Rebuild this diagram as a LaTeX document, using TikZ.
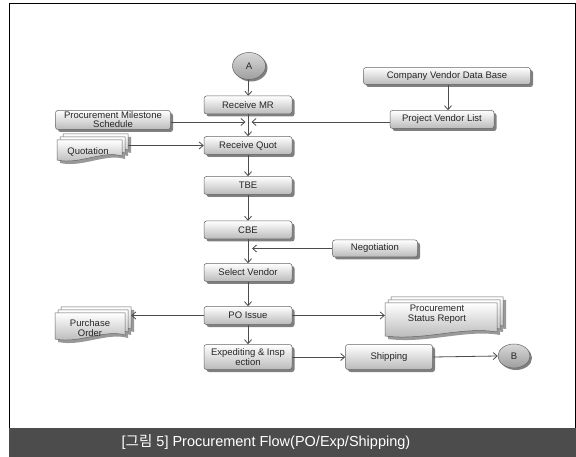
\documentclass[tikz,border=0pt]{standalone}
\usepackage{fontspec}
\setmainfont{Liberation Sans}
\newfontfamily\krfont{Noto Sans CJK KR}
\usetikzlibrary{arrows.meta,shadows,shapes.geometric,calc}

\newcommand{\onedoc}[5]{%
 \pgfmathsetmacro\dxa{#2}\pgfmathsetmacro\dya{#3}%
 \pgfmathsetmacro\dxb{#4}\pgfmathsetmacro\dyb{#5}%
 \pgfmathsetmacro\cxa{\dxa+0.7*(\dxb-\dxa)}%
 \pgfmathsetmacro\cxb{\dxa+0.35*(\dxb-\dxa)}%
 \path[#1] (\dxa,\dya) -- (\dxb,\dya) -- (\dxb,\dyb-5)
   .. controls (\cxa,\dyb-11) and (\cxb,\dyb+4) .. (\dxa,\dyb-1) -- cycle;}
\newcommand{\docstack}[4]{%
 \foreach \k in {6,3,0}{\onedoc{docshadow}{(#1)+\k+3}{(#2)+6-\k+3}{(#3)-6+\k+3}{(#4)-\k+3}}
 \foreach \k in {6,3,0}{\onedoc{docfill}{(#1)+\k}{(#2)+6-\k}{(#3)-6+\k}{(#4)-\k}}}

\tikzset{
 txt/.style={font=\fontsize{9.5}{10}\selectfont, text=black!85, align=center},
 box/.style={txt, draw=black!60, line width=0.5pt, rounded corners=2.5pt,
   top color=white, bottom color=black!27, minimum width=88pt, minimum height=18pt,
   inner sep=1pt,
   general shadow={fill=black!50, shadow xshift=2.5pt, shadow yshift=-2.5pt}},
 term/.style={txt, ellipse, draw=black!60, line width=0.5pt, top color=black!15,
   bottom color=black!38, inner sep=0pt,
   general shadow={fill=black!50, shadow xshift=2pt, shadow yshift=-2pt}},
 docshadow/.style={fill=black!40},
 docfill/.style={draw=black!60, line width=0.5pt, top color=white, bottom color=black!30},
 docbox/.style={inner sep=0pt},
 arr/.style={draw=black!70, line width=0.8pt, -{Straight Barb[length=4pt,width=7pt]}},
}

\begin{document}
\begin{tikzpicture}[x=1pt,y=-1pt]
\useasboundingbox (0,0) rectangle (576,457);
\fill[white] (0,0) rectangle (576,457);
\draw[black, line width=1pt] (9,4) rectangle (575,428);
\fill[black!70] (9,428) rectangle (576,457);
\node[text=white, font=\fontsize{14.5}{14.5}\selectfont] (cap) at (266,442)
  {[{\krfont 그림} 5] Procurement Flow(PO/Exp/Shipping)};

% main column
\node[term, minimum width=33pt, minimum height=27pt] (A) at (249,66) {A};
\node[box] (mr)   at (248,105)   {Receive MR};
\node[box] (quot) at (248,145.5) {Receive Quot};
\node[box] (tbe)  at (248,185.5) {TBE};
\node[box] (cbe)  at (248,230)   {CBE};
\node[box] (sel)  at (248,272.5) {Select Vendor};
\node[box] (po)   at (248,315.5) {PO Issue};
\node[box, minimum height=25pt] (exp) at (248,357) {Expediting \& Insp\\ection};

% side boxes
\node[box, minimum width=115pt, minimum height=19pt, font=\fontsize{9.5}{9}\selectfont] (pms) at (113,120) {Procurement Milestone\\Schedule};
\node[box, minimum width=167pt, minimum height=17pt] (cvdb) at (447,76) {Company Vendor Data Base};
\node[box, minimum width=104pt, minimum height=18pt] (pvl) at (442,119.5) {Project Vendor List};
\node[box, minimum width=85pt, minimum height=17pt] (neg) at (375,248.5) {Negotiation};
\node[box, minimum width=87pt, minimum height=25pt] (ship) at (389,357) {Shipping};
\node[term, minimum width=32pt, minimum height=24pt] (B) at (514,356) {B};

% document stacks
\docstack{57}{134}{128}{161}
\node[docbox, minimum width=71pt, minimum height=27pt] (quotdoc) at (92.5,147.5) {};
\node[txt] (quott) at (88,152) {Quotation};
\docstack{55}{307}{131}{340}
\node[docbox, minimum width=76pt, minimum height=33pt] (podoc) at (93,323.5) {};
\node[txt] (podt) at (90,328) {Purchase\\Order};
\docstack{385}{297}{503}{337}
\node[docbox, minimum width=118pt, minimum height=40pt] (psr) at (444,317) {};
\node[txt] (psrt) at (437,314) {Procurement\\Status Report};

% connectors
\coordinate (jl) at (245.5,122);
\coordinate (jr) at (251.5,122);
\coordinate (jn) at (252,248.5);
\draw[arr] (A) -- (mr);
\draw[arr] (mr) -- (quot);
\draw[arr] (pms.east |- jl) -- (jl);
\draw[arr] (pvl.west |- jr) -- (jr);
\draw[arr] (cvdb.south -| 448,0) -- (pvl.north -| 448,0);
\draw[arr] (quotdoc.east |- quot.west) -- (quot.west);
\draw[arr] (quot) -- (tbe);
\draw[arr] (tbe) -- (cbe);
\draw[arr] (cbe) -- (sel);
\draw[arr] (neg.west) -- (jn);
\draw[arr] (sel) -- (po);
\draw[arr] (po.west) -- (podoc.east |- po.west);
\draw[arr] (po.east) -- (psr.west |- po.east);
\draw[arr] (po) -- (exp);
\draw[arr] (exp.east) -- (ship.west);
\draw[arr] (ship.east) -- (B.west);
\end{tikzpicture}
\end{document}
